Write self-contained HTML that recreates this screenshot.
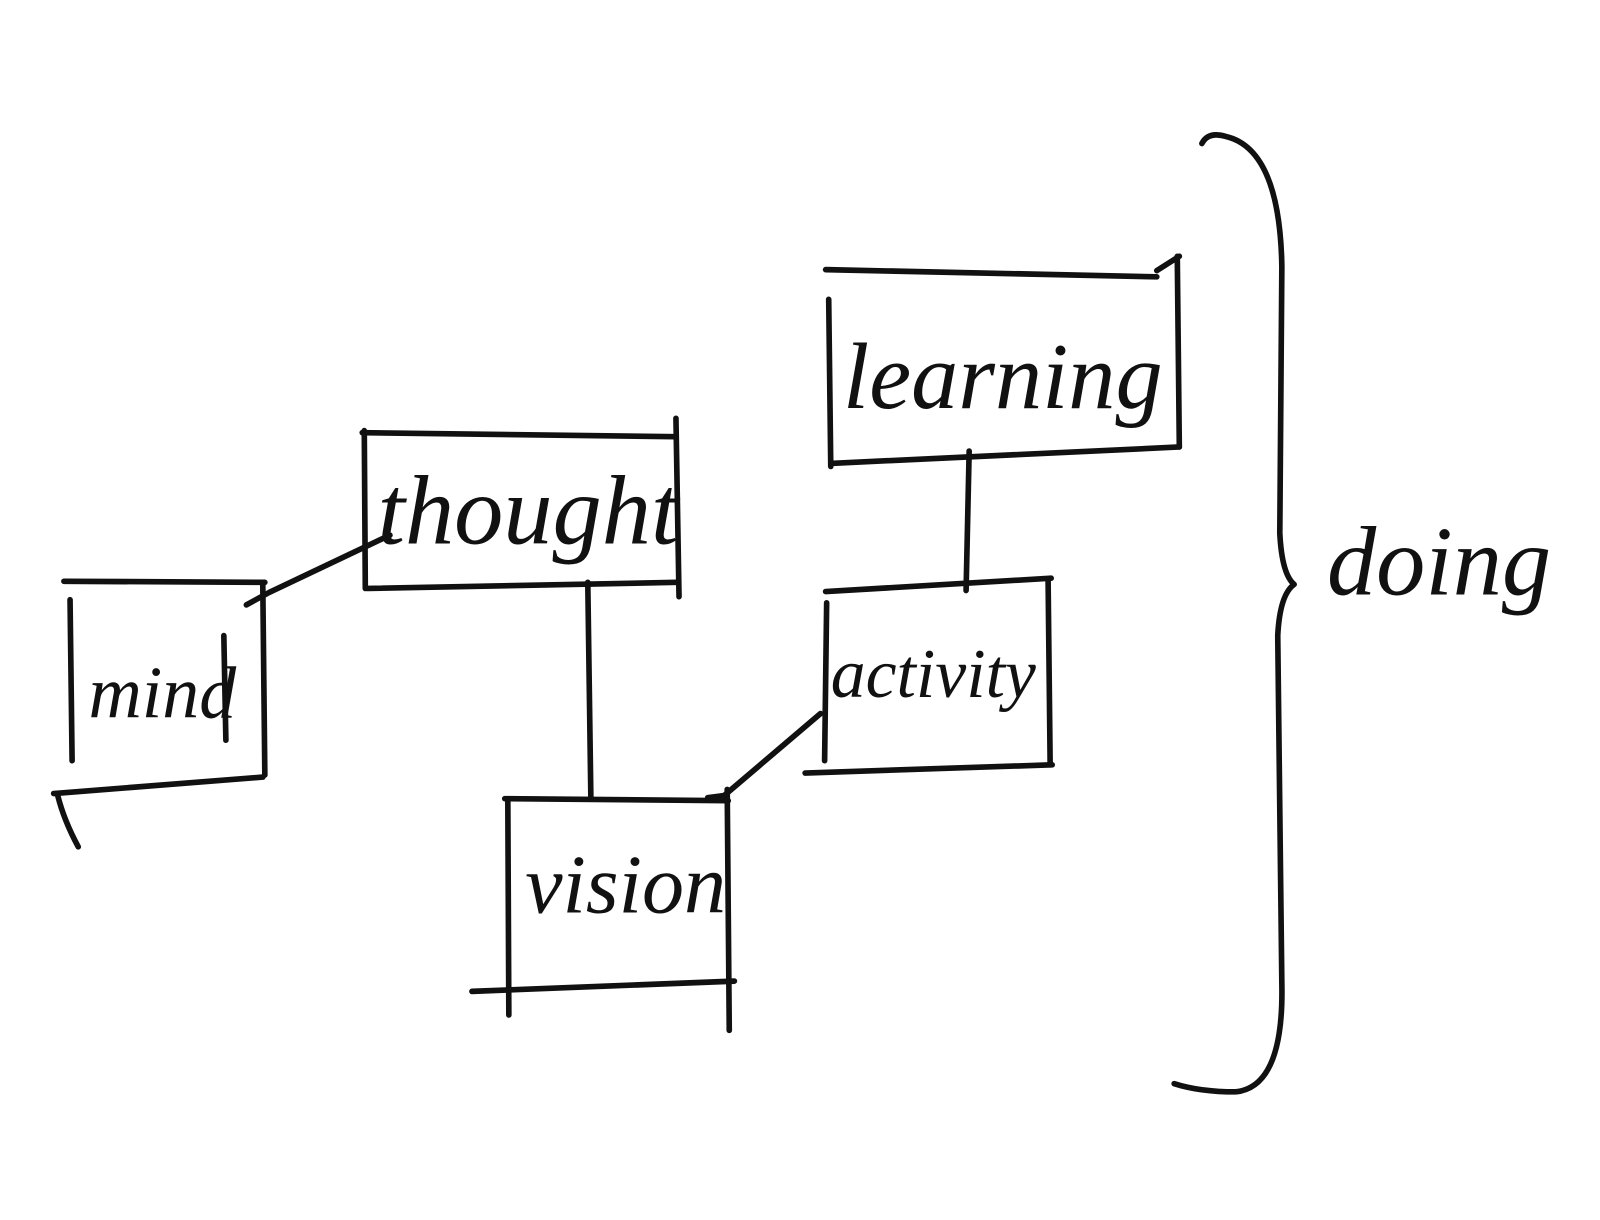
<!DOCTYPE html>
<html><head><meta charset="utf-8"><style>
html,body{margin:0;padding:0;background:#fff;}
svg{display:block}
text{font-family:"Liberation Serif",serif;font-style:italic;fill:#111;}
</style></head><body>
<svg width="1600" height="1220" viewBox="0 0 1560 1190" xmlns="http://www.w3.org/2000/svg">
<g fill="none" stroke="#111" stroke-width="5.5" stroke-linecap="round" stroke-linejoin="round">
<path d="M62 567 L258 568"/>
<path d="M68 585 L70 742"/>
<path d="M256 570 L258 756"/>
<path d="M52 774 L256 758"/>
<path d="M56 776 Q62 800 76 826"/>
<path d="M218 620 L220 722"/>
<path d="M353 422 L658 426"/>
<path d="M355 420 L356 574"/>
<path d="M659 408 L662 582"/>
<path d="M358 574 L660 568"/>
<path d="M240 590 L262 578 L380 522"/>
<path d="M573 568 L576 778"/>
<path d="M492 779 L710 781"/>
<path d="M495 780 L496 990"/>
<path d="M709 770 L711 1005"/>
<path d="M460 967 L716 957"/>
<path d="M805 263 L1128 270"/>
<path d="M1128 264 L1150 250"/>
<path d="M808 292 L810 455"/>
<path d="M1148 250 L1150 436"/>
<path d="M810 452 L1150 436"/>
<path d="M945 440 L942 576"/>
<path d="M805 577 L1025 564"/>
<path d="M806 588 L804 742"/>
<path d="M1022 566 L1024 746"/>
<path d="M785 754 L1026 746"/>
<path d="M800 696 L706 776 L690 778"/>
<path d="M1172 140 Q1178 128 1195 133 Q1248 145 1250 260 L1248 520 Q1250 560 1262 570 Q1248 580 1246 620 L1250 960 Q1252 1060 1205 1065 Q1170 1065 1145 1057"/>
</g>
<text x="86" y="700" font-size="72">mind</text>
<text x="368" y="530" font-size="96">thought</text>
<text x="512" y="890" font-size="82">vision</text>
<text x="822" y="398" font-size="92">learning</text>
<text x="810" y="680" font-size="68">activity</text>
<text x="1294" y="580" font-size="96">doing</text>
</svg>
</body></html>
